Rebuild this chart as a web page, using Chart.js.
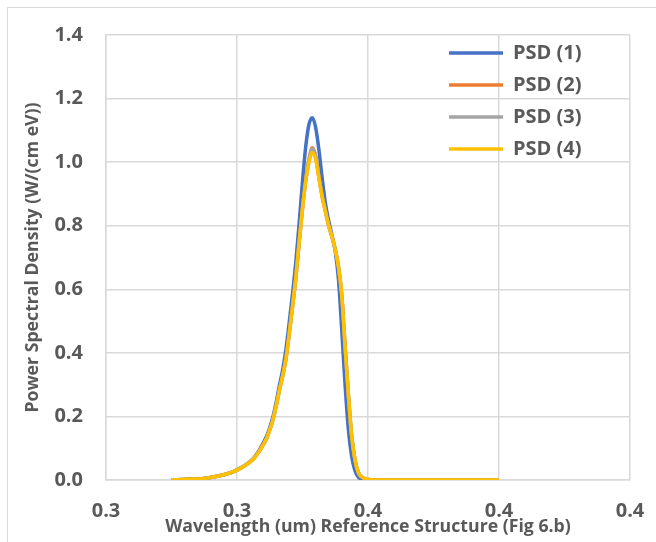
<!DOCTYPE html>
<html>
<head>
<meta charset="utf-8">
<script src="https://cdn.jsdelivr.net/npm/chart.js@4.4.1/dist/chart.umd.min.js"></script>
<style>
  body { margin: 0; background: #fff; }
  #wrap { position: relative; width: 656px; height: 542px; overflow: hidden; }
  #frame { position: absolute; left: 7px; top: 7px; width: 700px; height: 600px; border: 1px solid #d9d9d9; }
  #psd { position: absolute; left: 0; top: 0; }
</style>
</head>
<body>
<div id="wrap">
  <div id="frame"></div>
  <canvas id="psd" width="656" height="542"></canvas>
</div>
<script>
// wavelength in um
let wavelength = [0.300,0.305,0.310,0.315,0.320,0.325,0.327,0.329,0.330,0.331,0.332,0.333,0.334,0.335,
  0.336,0.337,0.338,0.339,0.340,0.341,0.342,0.343,0.344,0.345,0.346,0.347,0.348,0.349,0.350,0.351,
  0.352,0.353,0.354,0.355,0.356,0.357,0.358,0.360,0.365,0.370,0.380,0.390,0.400];
let psd1 = [0,0.002,0.005,0.014,0.032,0.068,0.098,0.137,0.165,0.20,0.247,0.30,0.35,0.415,
  0.50,0.59,0.69,0.81,0.94,1.05,1.12,1.14,1.11,1.04,0.95,0.87,0.815,0.77,0.72,0.63,
  0.47,0.30,0.16,0.075,0.03,0.01,0.003,0,0,0,0,0,0];
let psd2 = [0,0.002,0.005,0.014,0.031,0.066,0.094,0.13,0.158,0.19,0.235,0.285,0.33,0.385,
  0.465,0.55,0.64,0.75,0.855,0.945,1.01,1.045,1.02,0.955,0.895,0.845,0.80,0.765,0.725,0.67,
  0.58,0.42,0.27,0.14,0.065,0.025,0.01,0.002,0,0,0,0,0];
let psd3 = [0,0.002,0.005,0.014,0.031,0.066,0.094,0.13,0.158,0.19,0.235,0.285,0.33,0.385,
  0.465,0.55,0.64,0.75,0.855,0.943,1.008,1.042,1.018,0.953,0.893,0.845,0.80,0.765,0.725,0.67,
  0.58,0.42,0.27,0.14,0.065,0.025,0.01,0.002,0,0,0,0,0];
let psd4 = [0,0.002,0.005,0.014,0.031,0.066,0.094,0.13,0.158,0.19,0.235,0.285,0.33,0.385,
  0.465,0.55,0.64,0.75,0.855,0.94,1.0,1.03,1.01,0.95,0.89,0.845,0.80,0.765,0.725,0.67,
  0.58,0.42,0.27,0.14,0.065,0.025,0.01,0.002,0,0,0,0,0];
let seriesNames = ['PSD (1)','PSD (2)','PSD (3)','PSD (4)'];
let xTicks = [0.28,0.32,0.36,0.40,0.44];
let yTicks = [0,0.2,0.4,0.6,0.8,1.0,1.2,1.4];

let colors = ['#4472C4','#ED7D31','#A5A5A5','#FFC000'];
let allSeries = [psd1,psd2,psd3,psd4];
let txt = '#595959';
let fam = "'Open Sans', sans-serif";

function pts(ys){
  let out=[];
  for(let i=0;i<wavelength.length;i++) out.push({x:wavelength[i],y:ys[i]});
  return out;
}

let datasets = allSeries.map(function(s,i){
  return {
    label: seriesNames[i],
    data: pts(s),
    borderColor: colors[i],
    backgroundColor: colors[i],
    borderWidth: 3.5,
    pointRadius: 0,
    cubicInterpolationMode: 'monotone',
    order: 4-i
  };
});

// put the legend inside the plot, top right
const legendInside = {
  id: 'legendInside',
  afterLayout(chart){
    let lg=chart.legend, ca=chart.chartArea;
    let w=lg.width, h=lg.height;
    lg.left = ca.right - 193;
    lg.right = lg.left + w;
    lg.top = ca.top - 4;
    lg.bottom = lg.top + h;
  }
};

new Chart('psd', {
  type: 'line',
  data: { datasets: datasets },
  plugins: [legendInside],
  options: {
    responsive: false,
    animation: false,
    devicePixelRatio: 1,
    layout: { padding: { top: 33, right: 26, bottom: 0, left: 8 } },
    plugins: {
      tooltip: { enabled: false },
      legend: {
        position: 'chartArea',
        align: 'start',
        labels: {
          usePointStyle: true,
          pointStyle: 'line',
          pointStyleWidth: 54,
          padding: 12,
          color: txt,
          font: { family: fam, size: 20, weight: 'bold' },
          sort: (a,b) => a.datasetIndex - b.datasetIndex
        }
      }
    },
    scales: {
      x: {
        type: 'linear',
        min: 0.28, max: 0.44,
        afterBuildTicks: (s) => { s.ticks = xTicks.map(v => ({value:v})); },
        afterFit: (s) => { s.height = 62; s.paddingLeft = 0; s.paddingRight = 0; },
        grid: { color: '#d9d9d9', lineWidth: 1.5, drawTicks: false },
        border: { color: '#d9d9d9', width: 1.5 },
        ticks: {
          padding: 19, color: txt, maxRotation: 0,
          font: { family: fam, size: 20, weight: 'bold' },
          callback: (v) => Number(v).toFixed(1)
        },
        title: {
          display: true,
          text: 'Wavelength (um) Reference Structure (Fig 6.b)',
          color: txt,
          font: { family: fam, size: 17.7, weight: 'bold' },
          padding: { top: 0, bottom: 4 }
        }
      },
      y: {
        min: 0, max: 1.4,
        afterBuildTicks: (s) => { s.ticks = yTicks.map(v => ({value:v})); },
        afterFit: (s) => { s.width = 98; },
        grid: { color: '#d9d9d9', lineWidth: 1.5, drawTicks: false },
        border: { color: '#d9d9d9', width: 1.5 },
        ticks: {
          padding: 23, color: txt,
          font: { family: fam, size: 20, weight: 'bold' },
          callback: (v) => Number(v).toFixed(1)
        },
        title: {
          display: true,
          text: 'Power Spectral Density (W/(cm eV))',
          color: txt,
          font: { family: fam, size: 17.7, weight: 'bold' },
          padding: { top: 14, bottom: 0 }
        }
      }
    }
  }
});
</script>
</body>
</html>
